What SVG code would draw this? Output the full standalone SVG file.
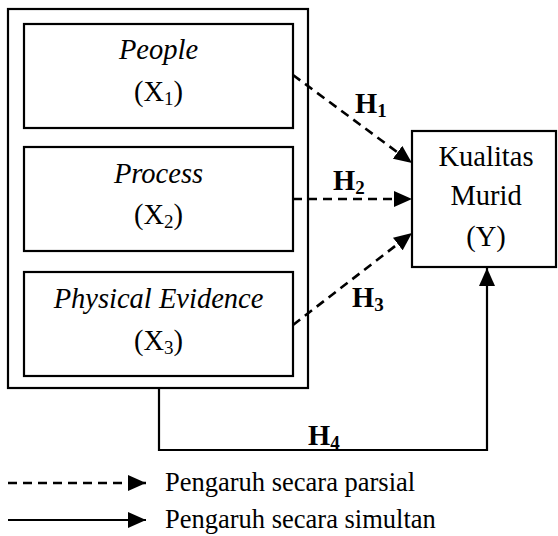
<svg xmlns="http://www.w3.org/2000/svg" width="558" height="536" viewBox="0 0 558 536">
<defs>
<style>
.box{fill:#fff;stroke:#000;stroke-width:2.2}
text{font-family:'Liberation Serif','Times New Roman',serif;fill:#000}
.t{font-size:28.5px;text-anchor:middle}
.i{font-style:italic}
.sub{font-size:19px}
.h{font-size:28.5px;font-weight:bold}
.leg{font-size:26.5px}
.dash{fill:none;stroke:#000;stroke-width:2.6;stroke-dasharray:9 6}
.solid{fill:none;stroke:#000;stroke-width:2.2}
</style>
<marker id="ah" markerUnits="userSpaceOnUse" markerWidth="18" markerHeight="16" viewBox="0 0 18 16" refX="18" refY="8" orient="auto">
<path d="M0,0 L18,8 L0,16 z" fill="#000"/>
</marker>
</defs>
<rect width="558" height="536" fill="#fff"/>
<g id="outer"><rect class="box" x="8" y="9" width="300" height="379"/></g>
<g id="x1">
<rect class="box" x="24" y="24" width="269" height="104"/>
<text class="t i" x="158.5" y="59">People</text>
<text class="t" x="158.5" y="101">(X<tspan class="sub" dy="4">1</tspan><tspan dy="-4">)</tspan></text>
</g>
<g id="x2">
<rect class="box" x="24" y="147" width="269" height="104"/>
<text class="t i" x="158.5" y="183">Process</text>
<text class="t" x="158.5" y="224">(X<tspan class="sub" dy="4">2</tspan><tspan dy="-4">)</tspan></text>
</g>
<g id="x3">
<rect class="box" x="24" y="272" width="269" height="104"/>
<text class="t i" x="158.5" y="308">Physical Evidence</text>
<text class="t" x="158.5" y="350">(X<tspan class="sub" dy="4">3</tspan><tspan dy="-4">)</tspan></text>
</g>
<g id="y">
<rect class="box" x="412" y="131" width="144" height="136"/>
<text class="t" x="486" y="166">Kualitas</text>
<text class="t" x="486" y="205">Murid</text>
<text class="t" x="486" y="246">(Y)</text>
</g>
<g id="connectors">
<path class="dash" d="M293,75 L412,163" marker-end="url(#ah)"/>
<path class="dash" d="M293,199 L412,199" marker-end="url(#ah)"/>
<path class="dash" d="M293,325 L412,233" marker-end="url(#ah)"/>
<path class="solid" d="M159,388 V450 H487 V268" marker-end="url(#ah)"/>
<text class="h" x="355" y="113">H<tspan class="sub" dy="4">1</tspan></text>
<text class="h" x="333" y="190">H<tspan class="sub" dy="4">2</tspan></text>
<text class="h" x="352" y="307">H<tspan class="sub" dy="4">3</tspan></text>
<text class="h" x="308" y="445">H<tspan class="sub" dy="4">4</tspan></text>
</g>
<g id="legend">
<path class="dash" d="M8,483 H146" marker-end="url(#ah)"/>
<path class="solid" d="M8,520 H146" marker-end="url(#ah)"/>
<text class="leg" x="165" y="491">Pengaruh secara parsial</text>
<text class="leg" x="165" y="528">Pengaruh secara simultan</text>
</g>
</svg>
